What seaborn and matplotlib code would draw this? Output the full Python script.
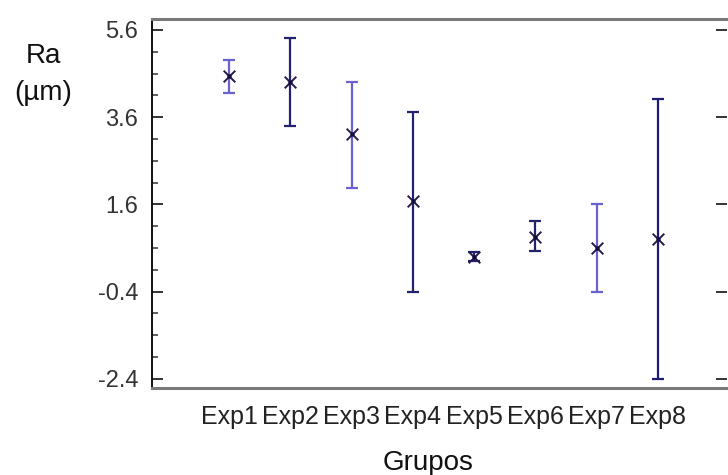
import matplotlib
matplotlib.use("Agg")
import matplotlib.pyplot as plt
import seaborn as sns
import numpy as np
import pandas as pd
from matplotlib.ticker import FixedLocator

groups = ["Exp1", "Exp2", "Exp3", "Exp4", "Exp5", "Exp6", "Exp7", "Exp8"]
means = [4.55, 4.41, 3.21, 1.68, 0.39, 0.85, 0.60, 0.80]
lower = [4.16, 3.40, 1.98, -0.41, 0.30, 0.53, -0.41, -2.40]
upper = [4.91, 5.42, 4.41, 3.72, 0.51, 1.22, 1.61, 4.02]
bar_colors = ["#6a62cf", "#22226e", "#6a62cf", "#22226e", "#22226e", "#22226e", "#6a62cf", "#1c1c78"]
y_ticks = [-2.4, -0.4, 1.6, 3.6, 5.6]
y_tick_labels = ["-2.4", "-0.4", "1.6", "3.6", "5.6"]

sns.set_theme(style="white")
plt.rcParams["font.family"] = ["Liberation Sans", "DejaVu Sans"]

df = pd.DataFrame({"grupo": groups, "x": np.arange(len(groups)), "ra": means})

fig = plt.figure(figsize=(7.28, 4.75), dpi=100)
ax = fig.add_axes([152 / 728, 1 - 388 / 475, 575 / 728, 369 / 475])

for i in range(len(groups)):
    ax.errorbar(df["x"][i], means[i],
                yerr=[[means[i] - lower[i]], [upper[i] - means[i]]],
                fmt="none", ecolor=bar_colors[i], elinewidth=1.6,
                capsize=4.5, capthick=1.6, zorder=2)

sns.scatterplot(data=df, x="x", y="ra", marker="x", s=70, color="#2a1a4a",
                linewidth=1.4, ax=ax, zorder=3, legend=False)
sns.scatterplot(data=df, x="x", y="ra", marker="o", s=10, color="#101040",
                linewidth=0, ax=ax, zorder=4, legend=False)

ax.set_xlim(-1.256, 8.126)
ax.set_ylim(-2.61, 5.85)
ax.set_xticks(df["x"])
ax.set_xticklabels(groups, fontsize=18, color="#222222")
ax.yaxis.set_major_locator(FixedLocator(y_ticks))
ax.set_yticklabels(y_tick_labels, fontsize=17, color="#333333")
ax.yaxis.set_minor_locator(FixedLocator(np.arange(-2.4, 5.61, 0.5)))
ax.set_xlabel("")
ax.set_ylabel("")

ax.tick_params(axis="y", which="major", direction="in", length=8, width=1.3,
               color="#222222", left=True, right=True, pad=10)
ax.tick_params(axis="y", which="minor", direction="in", length=4, width=1.1,
               color="#333333", left=True, right=False)
ax.tick_params(axis="x", which="both", bottom=False, top=False, pad=6)

ax.spines["left"].set_color("#111111")
ax.spines["left"].set_linewidth(1.4)
ax.spines["top"].set_color("#7a7a7a")
ax.spines["top"].set_linewidth(2.2)
ax.spines["bottom"].set_color("#7a7a7a")
ax.spines["bottom"].set_linewidth(2.2)
ax.spines["right"].set_visible(False)

fig.text(43 / 728, 1 - 56 / 475, "Ra", fontsize=20, ha="center", va="center", color="#111111")
fig.text(43 / 728, 1 - 93 / 475, "(µm)", fontsize=20, ha="center", va="center", color="#111111")
fig.text(428 / 728, 1 - 470 / 475, "Grupos", fontsize=20, ha="center", va="baseline", color="#111111")

fig.savefig("out.png", dpi=100)
